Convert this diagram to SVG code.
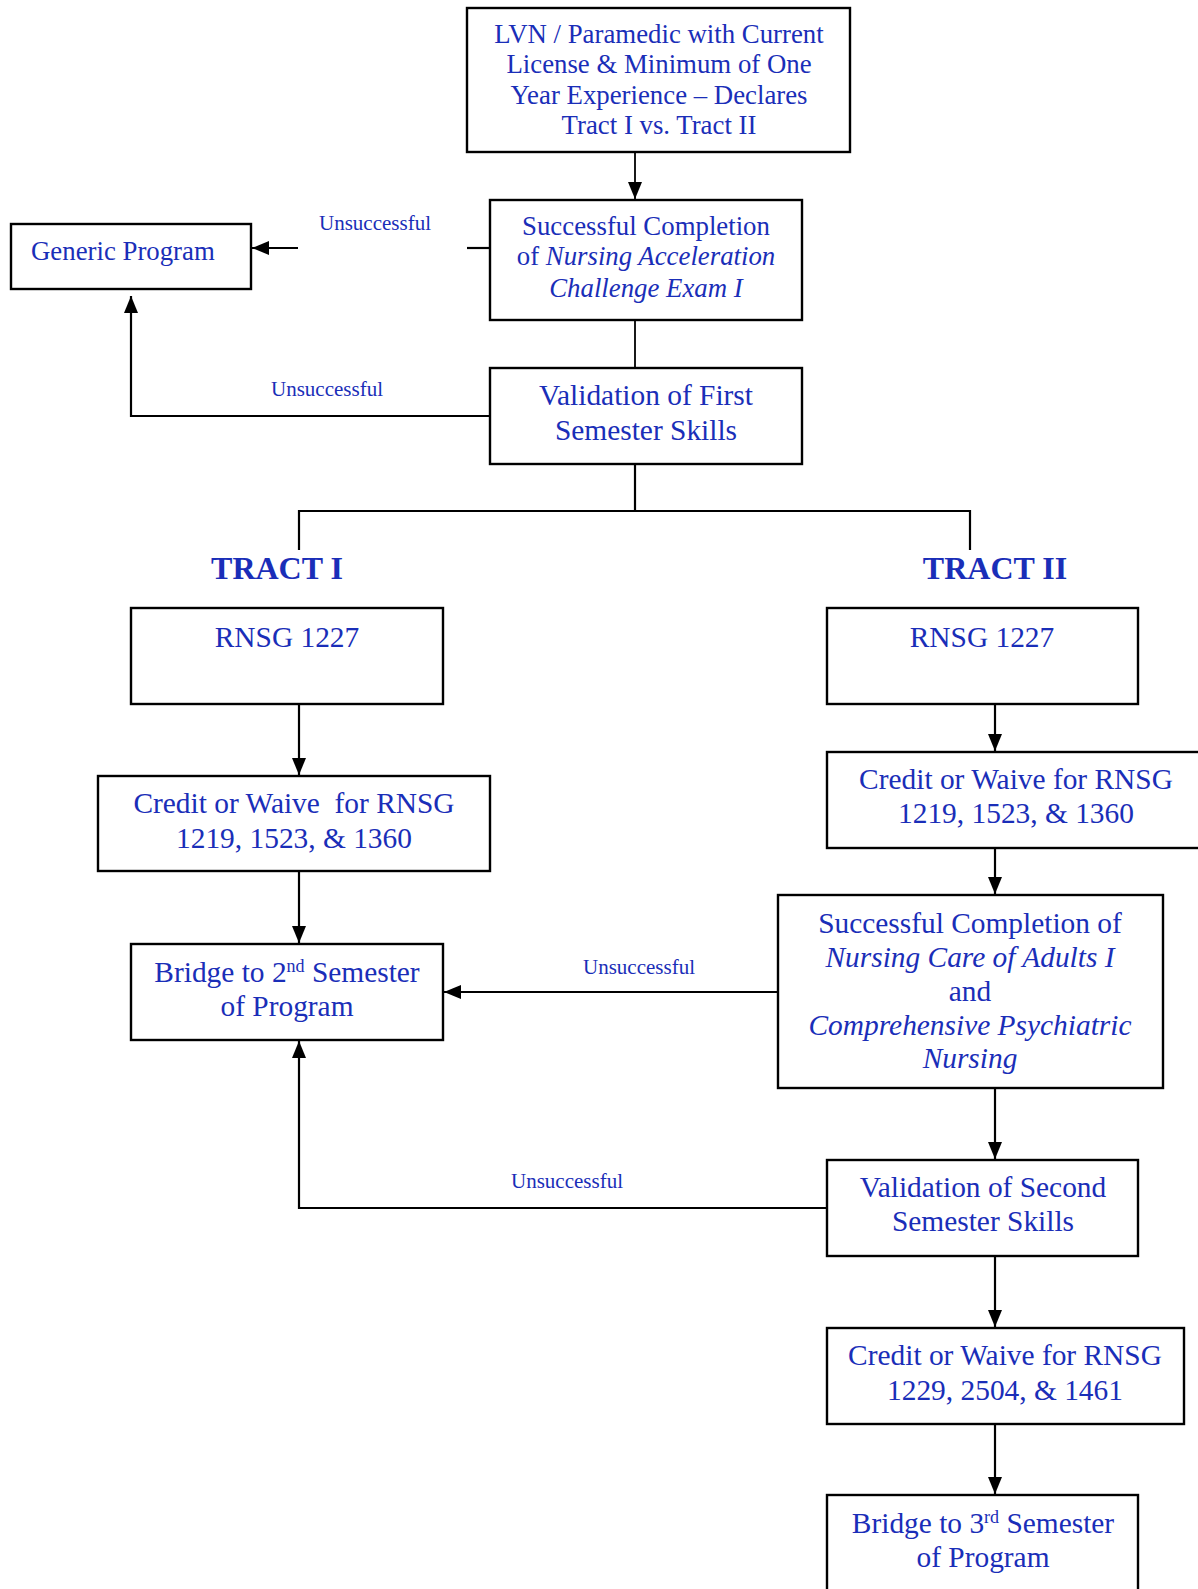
<svg xmlns="http://www.w3.org/2000/svg" width="1198" height="1589" viewBox="0 0 1198 1589">
<style>
  .box { fill: #ffffff; stroke: #000000; stroke-width: 2.4; }
  .t { font-family: "Liberation Serif", "Times New Roman", serif; fill: #1a2eb8; text-anchor: middle; }
  .s26 { font-size: 26.8px; }
  .s29 { font-size: 29.4px; }
  .lbl { font-family: "Liberation Serif", "Times New Roman", serif; fill: #1a2eb8; font-size: 21px; text-anchor: middle; }
  .tract { font-family: "Liberation Serif", "Times New Roman", serif; fill: #1a2eb8; font-size: 32px; font-weight: bold; text-anchor: middle; }
  .it { font-style: italic; }
  .sup { font-size: 18px; }
  .c { fill: none; stroke: #000000; stroke-width: 2.2; }
  .thin { fill: none; stroke: #000000; stroke-width: 1.8; }
</style>
<defs>
  <marker id="ah" markerUnits="userSpaceOnUse" markerWidth="18" markerHeight="16" refX="17" refY="7" orient="auto">
    <path d="M0,0 L17,7 L0,14 z" fill="#000000"/>
  </marker>
</defs>
<rect width="1198" height="1589" fill="#ffffff"/>

<g id="connectors">
  <path class="thin" d="M635,152 V199" marker-end="url(#ah)"/>
  <path class="c" d="M490,248 H467"/>
  <path class="c" d="M298,248 H252" marker-end="url(#ah)"/>
  <path class="thin" d="M635,320 V368"/>
  <path class="c" d="M490,416 H131 V296" marker-end="url(#ah)"/>
  <path class="c" d="M635,464 V511 M299,550 V511 H970 V550"/>
  <path class="c" d="M299,704 V775" marker-end="url(#ah)"/>
  <path class="c" d="M995,704 V751" marker-end="url(#ah)"/>
  <path class="c" d="M299,871 V943" marker-end="url(#ah)"/>
  <path class="c" d="M995,848 V894" marker-end="url(#ah)"/>
  <path class="c" d="M778,992 H444" marker-end="url(#ah)"/>
  <path class="c" d="M995,1088 V1159" marker-end="url(#ah)"/>
  <path class="c" d="M827,1208 H299 V1041" marker-end="url(#ah)"/>
  <path class="c" d="M995,1256 V1327" marker-end="url(#ah)"/>
  <path class="c" d="M995,1424 V1494" marker-end="url(#ah)"/>
  <text class="lbl" x="375" y="230">Unsuccessful</text>
  <text class="lbl" x="327" y="396">Unsuccessful</text>
  <text class="lbl" x="639" y="974">Unsuccessful</text>
  <text class="lbl" x="567" y="1188">Unsuccessful</text>
</g>

<g id="start">
  <rect class="box" x="467" y="8" width="383" height="144"/>
  <text class="t s26" x="659" y="43">LVN / Paramedic with Current</text>
  <text class="t s26" x="659" y="73">License &amp; Minimum of One</text>
  <text class="t s26" x="659" y="104">Year Experience – Declares</text>
  <text class="t s26" x="659" y="134">Tract I vs. Tract II</text>
</g>

<g id="exam">
  <rect class="box" x="490" y="200" width="312" height="120"/>
  <text class="t s26" x="646" y="235">Successful Completion</text>
  <text class="t s26" x="646" y="265">of <tspan class="it">Nursing Acceleration</tspan></text>
  <text class="t s26 it" x="646" y="297">Challenge Exam I</text>
</g>

<g id="generic">
  <rect class="box" x="11" y="224" width="240" height="65"/>
  <text class="t s26" x="31" y="260" style="text-anchor:start">Generic Program</text>
</g>

<g id="validation1">
  <rect class="box" x="490" y="368" width="312" height="96"/>
  <text class="t s29" x="646" y="405">Validation of First</text>
  <text class="t s29" x="646" y="440">Semester Skills</text>
</g>

<g id="tract1">
  <text class="tract" x="277" y="579">TRACT I</text>
</g>
<g id="tract2">
  <text class="tract" x="995" y="579">TRACT II</text>
</g>

<g id="rnsg-left">
  <rect class="box" x="131" y="608" width="312" height="96"/>
  <text class="t s29" x="287" y="647">RNSG 1227</text>
</g>

<g id="rnsg-right">
  <rect class="box" x="827" y="608" width="311" height="96"/>
  <text class="t s29" x="982" y="647">RNSG 1227</text>
</g>

<g id="credit-left">
  <rect class="box" x="98" y="776" width="392" height="95"/>
  <text class="t s29" x="294" y="813" xml:space="preserve">Credit or Waive  for RNSG</text>
  <text class="t s29" x="294" y="848">1219, 1523, &amp; 1360</text>
</g>

<g id="credit-right">
  <rect class="box" x="827" y="752" width="390" height="96"/>
  <text class="t s29" x="1016" y="789">Credit or Waive for RNSG</text>
  <text class="t s29" x="1016" y="823">1219, 1523, &amp; 1360</text>
</g>

<g id="bridge2">
  <rect class="box" x="131" y="944" width="312" height="96"/>
  <text class="t s29" x="287" y="982">Bridge to 2<tspan class="sup" dy="-10">nd</tspan><tspan dy="10"> Semester</tspan></text>
  <text class="t s29" x="287" y="1016">of Program</text>
</g>

<g id="success2">
  <rect class="box" x="778" y="895" width="385" height="193"/>
  <text class="t s29" x="970" y="933">Successful Completion of</text>
  <text class="t s29 it" x="970" y="967">Nursing Care of Adults I</text>
  <text class="t s29" x="970" y="1001">and</text>
  <text class="t s29 it" x="970" y="1035">Comprehensive Psychiatric</text>
  <text class="t s29 it" x="970" y="1068">Nursing</text>
</g>

<g id="validation2">
  <rect class="box" x="827" y="1160" width="311" height="96"/>
  <text class="t s29" x="983" y="1197">Validation of Second</text>
  <text class="t s29" x="983" y="1231">Semester Skills</text>
</g>

<g id="credit3">
  <rect class="box" x="827" y="1328" width="357" height="96"/>
  <text class="t s29" x="1005" y="1365">Credit or Waive for RNSG</text>
  <text class="t s29" x="1005" y="1400">1229, 2504, &amp; 1461</text>
</g>

<g id="bridge3">
  <rect class="box" x="827" y="1495" width="311" height="110"/>
  <text class="t s29" x="983" y="1533">Bridge to 3<tspan class="sup" dy="-10">rd</tspan><tspan dy="10"> Semester</tspan></text>
  <text class="t s29" x="983" y="1567">of Program</text>
</g>
</svg>
